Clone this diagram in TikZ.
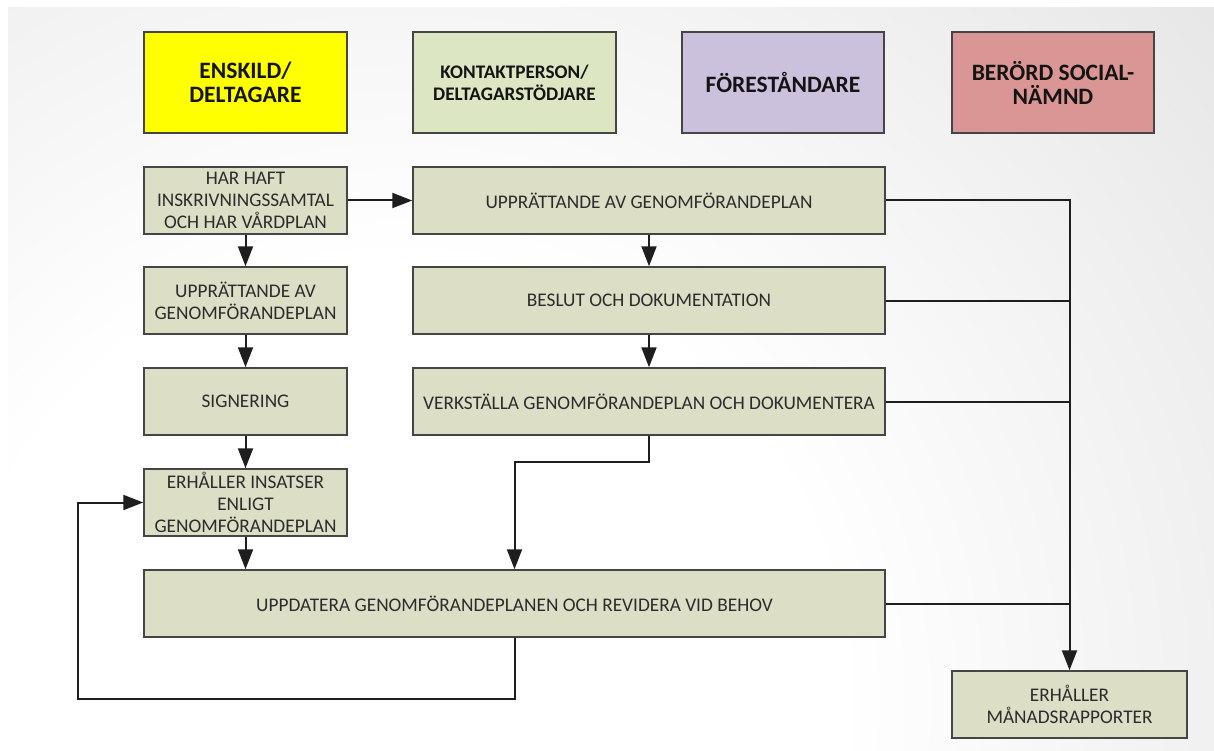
\documentclass[tikz,border=0pt]{standalone}
\usepackage{fontspec}
\setmainfont{Carlito}
\usetikzlibrary{arrows.meta}

% soft radial glow for the backdrop
\pgfdeclareradialshading{bgglow}{\pgfpoint{0bp}{0bp}}{color(0bp)=(white); color(10bp)=(white); color(40bp)=(black!20); color(50bp)=(black!23)}

\definecolor{stepfill}{HTML}{DCDFC6}
\definecolor{boxline}{HTML}{454545}
\definecolor{linecol}{HTML}{1E1E1E}
\definecolor{bodytext}{HTML}{2C2C2C}
\definecolor{headtext}{HTML}{141414}
\definecolor{ensfill}{HTML}{FFFF00}
\definecolor{konfill}{HTML}{DCE6C2}
\definecolor{forfill}{HTML}{CCC1DC}
\definecolor{berfill}{HTML}{DA9694}

\begin{document}
\begin{tikzpicture}[x=1pt,y=-1pt,
  stepbox/.style={draw=boxline, line width=1.5pt, fill=stepfill, inner sep=0pt,
    align=center, text=bodytext, font=\fontsize{19.3}{22}\selectfont,
    minimum height=67pt},
  headbox/.style={stepbox, minimum height=101pt, text=headtext,
    font=\bfseries\fontsize{23.5}{24}\selectfont},
  link/.style={draw=linecol, line width=2pt},
  arr/.style={link, -{Triangle[length=20pt,width=15pt]}}]

% backdrop
\useasboundingbox (0,0) rectangle (1214,751);
\fill[white] (0,0) rectangle (1214,751);
\begin{scope}
  \clip (8,8) rectangle (1214,751);
  \shade[shading=bgglow] (-700,-400) rectangle (1500,1800);
\end{scope}

% column headers
\node[headbox, fill=ensfill, minimum width=203pt] (hens) at (245.5,82.5) {ENSKILD/\\DELTAGARE};
\node[headbox, fill=konfill, minimum width=203pt,
      font=\bfseries\fontsize{19.2}{22}\selectfont] (hkon) at (514.5,82.5) {KONTAKTPERSON/\\DELTAGARSTÖDJARE};
\node[headbox, fill=forfill, minimum width=202pt] (hfor) at (783,82.5) {FÖRESTÅNDARE};
\node[headbox, fill=berfill, minimum width=202pt] (hber) at (1053,82.5) {BERÖRD SOCIAL-\\NÄMND};

% participant column
\node[stepbox, minimum width=203pt] (e1) at (245.5,200.5) {HAR HAFT\\INSKRIVNINGSSAMTAL\\OCH HAR VÅRDPLAN};
\node[stepbox, minimum width=203pt] (e2) at (245.5,300.5) {UPPRÄTTANDE AV\\GENOMFÖRANDEPLAN};
\node[stepbox, minimum width=203pt] (e3) at (245.5,401.5) {SIGNERING};
\node[stepbox, minimum width=203pt] (e4) at (245.5,502.5) {ERHÅLLER INSATSER\\ENLIGT\\GENOMFÖRANDEPLAN};

% contact person / manager steps
\node[stepbox, minimum width=472pt] (k1) at (649,200.5) {UPPRÄTTANDE AV GENOMFÖRANDEPLAN};
\node[stepbox, minimum width=472pt] (k2) at (649,300.5) {BESLUT OCH DOKUMENTATION};
\node[stepbox, minimum width=472pt] (k3) at (649,401.5) {VERKSTÄLLA GENOMFÖRANDEPLAN OCH DOKUMENTERA};

% shared follow-up step
\node[stepbox, minimum width=741pt] (upd) at (514.5,603.5) {UPPDATERA GENOMFÖRANDEPLANEN OCH REVIDERA VID BEHOV};

% social committee
\node[stepbox, minimum width=235pt] (rep) at (1069.5,704.5) {ERHÅLLER\\MÅNADSRAPPORTER};

\coordinate (loopbl) at (78,699);

% participant flow
\draw[arr] (e1.east) -- (k1.west);
\draw[arr] (e1.south) -- (e2.north);
\draw[arr] (e2.south) -- (e3.north);
\draw[arr] (e3.south) -- (e4.north);
\draw[arr] (e4.south) -- (e4.south |- upd.north);

% contact person flow
\draw[arr] (k1.south) -- (k2.north);
\draw[arr] (k2.south) -- (k3.north);
\draw[arr] (k3.south) -- ++(0,26) -| (upd.north);

% revision loop back to the participant
\draw[arr] (upd.south) |- (loopbl) |- (e4.west);

% reports collected on the right
\draw[arr] (k1.east) -| (rep.north);
\draw[link] (k2.east) -- (k2.east -| rep.north);
\draw[link] (k3.east) -- (k3.east -| rep.north);
\draw[link] (upd.east) -- (upd.east -| rep.north);
\end{tikzpicture}
\end{document}
